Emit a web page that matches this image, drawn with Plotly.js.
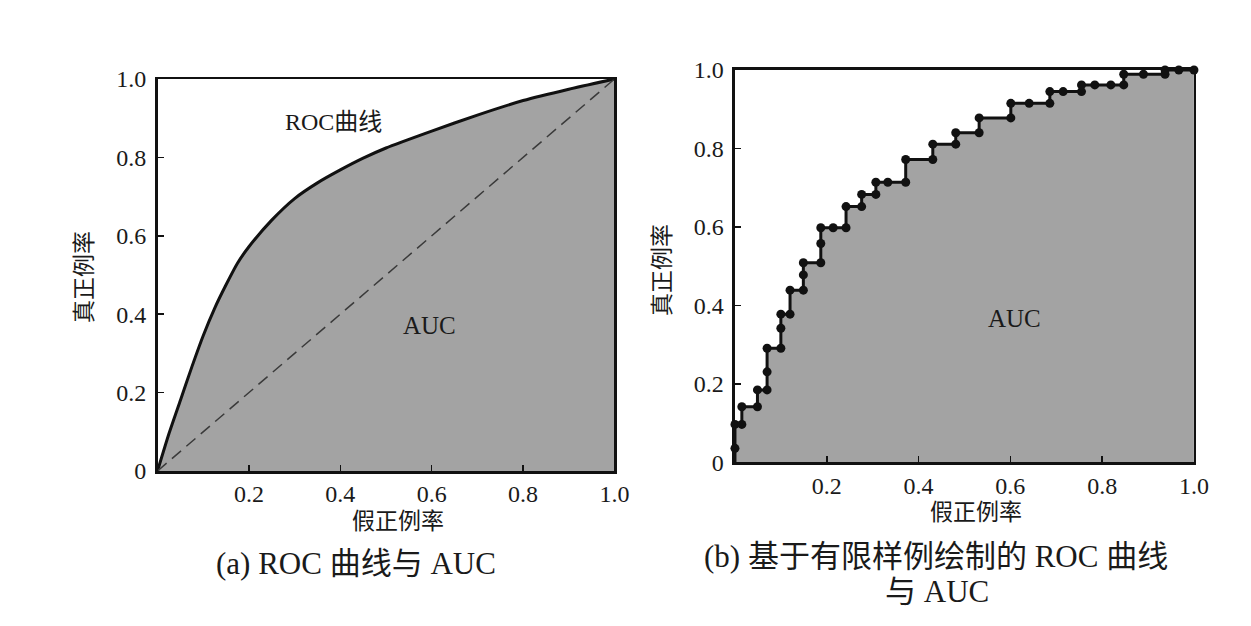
<!DOCTYPE html>
<html>
<head>
<meta charset="utf-8">
<script src="https://cdn.plot.ly/plotly-3.0.1.min.js"></script>
<style>
  html, body { margin: 0; padding: 0; background: #fff; }
  #roc { width: 1251px; height: 626px; }
</style>
</head>
<body>
<div id="roc"></div>
<script>
// (a) smooth ROC curve
var rocX = [0, 0.025, 0.05, 0.075, 0.1, 0.125, 0.15, 0.175, 0.2, 0.25, 0.3, 0.35, 0.4, 0.45, 0.5,
  0.6, 0.7, 0.8, 0.9, 1.0];
var rocY = [0, 0.095, 0.18, 0.265, 0.345, 0.415, 0.475, 0.53, 0.572, 0.64, 0.695, 0.735, 0.768, 0.798,
  0.824, 0.867, 0.908, 0.945, 0.974, 1.0];
var diagX = [0, 1];
var diagY = [0, 1];

// (b) ROC from a finite sample (staircase)
var stepX = [0, 0, 0, 0.015, 0.015, 0.049, 0.049, 0.070, 0.070, 0.070, 0.100, 0.100, 0.100,
  0.120, 0.120, 0.149, 0.149, 0.149, 0.187, 0.187, 0.187, 0.214, 0.242, 0.242, 0.276, 0.276,
  0.307, 0.307, 0.333, 0.372, 0.372, 0.431, 0.431, 0.481, 0.481, 0.532, 0.532, 0.601, 0.601,
  0.641, 0.686, 0.686, 0.715, 0.755, 0.755, 0.784, 0.819, 0.847, 0.847, 0.890, 0.937, 0.937,
  0.967, 1.0];
var stepY = [0, 0.036, 0.097, 0.097, 0.142, 0.142, 0.185, 0.185, 0.231, 0.291, 0.291, 0.342, 0.378,
  0.378, 0.439, 0.439, 0.478, 0.509, 0.509, 0.558, 0.598, 0.598, 0.598, 0.652, 0.652, 0.683,
  0.683, 0.714, 0.714, 0.714, 0.772, 0.772, 0.811, 0.811, 0.840, 0.840, 0.878, 0.878, 0.915,
  0.915, 0.915, 0.945, 0.945, 0.945, 0.962, 0.962, 0.962, 0.962, 0.989, 0.989, 0.989, 1.0,
  1.0, 1.0];

var xTicks = [0.2, 0.4, 0.6, 0.8, 1.0];
var xTickText = ['0.2', '0.4', '0.6', '0.8', '1.0'];
var yTicks = [0, 0.2, 0.4, 0.6, 0.8, 1.0];
var yTickText = ['0', '0.2', '0.4', '0.6', '0.8', '1.0'];

var FONT = "'Liberation Serif', 'DejaVu Serif', 'Noto Sans CJK SC', serif";
var FILL = '#a3a3a3';

var traces = [
    {x: rocX, y: rocY, mode: 'lines', type: 'scatter', xaxis: 'x', yaxis: 'y',
     line: {color: '#111', width: 3, shape: 'spline', smoothing: 0.6},
     fill: 'tozeroy', fillcolor: FILL, hoverinfo: 'skip'},
    {x: diagX, y: diagY, mode: 'lines', type: 'scatter', xaxis: 'x', yaxis: 'y',
     line: {color: '#3a3a3a', width: 1.5, dash: '12px,7px'}, hoverinfo: 'skip'},
    {x: stepX, y: stepY, mode: 'lines', type: 'scatter', xaxis: 'x2', yaxis: 'y2',
     line: {color: '#111', width: 3}, fill: 'tozeroy', fillcolor: FILL, hoverinfo: 'skip'},
    {x: stepX.slice(1), y: stepY.slice(1), mode: 'markers', type: 'scatter', xaxis: 'x2', yaxis: 'y2',
     marker: {color: '#111', size: 9}, cliponaxis: false, hoverinfo: 'skip'}
];

function axis(domain, vals, text, anchor, standoff) {
    return {
        domain: domain, range: [0, 1], anchor: anchor,
        tickvals: vals, ticktext: text, ticks: 'inside', ticklen: 6, tickwidth: 1.5,
        tickcolor: '#111', showline: true, mirror: true, linecolor: '#111', linewidth: 2.5,
        showgrid: false, zeroline: false, fixedrange: true, ticklabelstandoff: standoff,
        tickfont: {family: FONT, size: 24, color: '#1a1a1a'}
    };
}

function note(x, y, text, size, angle) {
    return {xref: 'paper', yref: 'paper', x: x / 1251, y: 1 - y / 626, text: text,
            xanchor: 'center', yanchor: 'middle', textangle: angle || 0,
            showarrow: false, font: {size: size}};
}

var layout = {
    width: 1251, height: 626,
    margin: {l: 0, r: 0, t: 0, b: 0},
    paper_bgcolor: '#fff', plot_bgcolor: '#fff',
    showlegend: false,
    font: {family: FONT, color: '#1a1a1a'},
    xaxis: axis([0.1259, 0.4912], xTicks, xTickText, 'y', 0),
    yaxis: axis([0.2476, 0.8738], yTicks, yTickText, 'x', 4),
    xaxis2: axis([0.5875, 0.9544], xTicks, xTickText, 'y2', 0),
    yaxis2: axis([0.2612, 0.8882], yTicks, yTickText, 'x2', 4),
    annotations: [
        {xref: 'x', yref: 'y', x: 0.386, y: 0.89, text: 'ROC曲线', showarrow: false,
         xanchor: 'center', yanchor: 'middle', font: {size: 24}},
        {xref: 'x', yref: 'y', x: 0.596, y: 0.37, text: 'AUC', showarrow: false,
         xanchor: 'center', yanchor: 'middle', font: {size: 25}},
        {xref: 'x2', yref: 'y2', x: 0.61, y: 0.368, text: 'AUC', showarrow: false,
         xanchor: 'center', yanchor: 'middle', font: {size: 25}},
        note(398, 521, '假正例率', 23),
        note(85, 277, '真正例率', 23, -90),
        note(976, 512, '假正例率', 23),
        note(663, 270, '真正例率', 23, -90),
        note(356, 563, '(a) ROC 曲线与 AUC', 31),
        note(936, 556, '(b) 基于有限样例绘制的 ROC 曲线', 31),
        note(937, 591, '与 AUC', 31)
    ]
};

Plotly.newPlot('roc', traces, layout, {staticPlot: true});
</script>
</body>
</html>
